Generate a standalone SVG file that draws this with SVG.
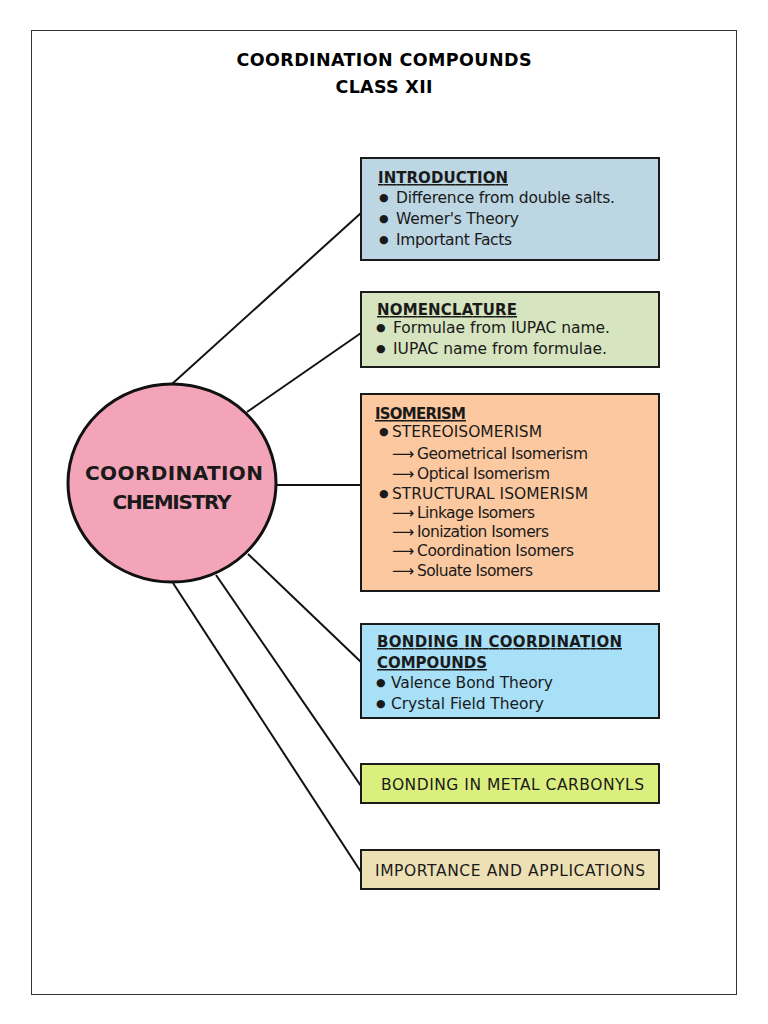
<svg xmlns="http://www.w3.org/2000/svg" width="768" height="1024" viewBox="0 0 768 1024">
<style>
.box{stroke:#1a1a1a;stroke-width:2}
.t{font-family:"DejaVu Sans",sans-serif;font-size:15.5px;fill:#1a1a1a}
.h{font-family:"DejaVu Sans",sans-serif;font-size:15px;font-weight:bold;fill:#1a1a1a;text-decoration:underline}
.b{font-size:11px}
.title{font-family:"DejaVu Sans",sans-serif;font-size:17.5px;font-weight:bold;fill:#000;text-anchor:middle}
.conn line{stroke:#111;stroke-width:2}
</style>
<rect x="0" y="0" width="768" height="1024" fill="#fff"/>
<rect x="31.5" y="30.5" width="705" height="964" fill="none" stroke="#333" stroke-width="1"/>
<g id="title">
<text class="title" x="384" y="66" textLength="295">COORDINATION COMPOUNDS</text>
<text class="title" x="384" y="93" textLength="97">CLASS XII</text>
</g>
<g id="connectors" class="conn">
<line x1="172" y1="384" x2="361" y2="213"/>
<line x1="247" y1="412" x2="361" y2="333"/>
<line x1="276" y1="485" x2="361" y2="485"/>
<line x1="248" y1="554" x2="361" y2="662"/>
<line x1="216" y1="575" x2="361" y2="786"/>
<line x1="173" y1="583" x2="361" y2="872"/>
</g>
<g id="center">
<ellipse cx="172" cy="483" rx="104" ry="99" fill="#f4a4b8" stroke="#111" stroke-width="3"/>
<text x="174" y="480" text-anchor="middle" font-family="DejaVu Sans,sans-serif" font-weight="bold" font-size="20" fill="#1a1a1a" textLength="178">COORDINATION</text>
<text x="172" y="509" text-anchor="middle" font-family="DejaVu Sans,sans-serif" font-weight="bold" font-size="20" fill="#1a1a1a" textLength="119">CHEMISTRY</text>
</g>
<g id="introduction">
<rect class="box" x="361" y="158" width="298" height="102" fill="#bcd6e3"/>
<text class="h" x="378" y="183" textLength="130">INTRODUCTION</text>
<text class="t" y="203"><tspan class="b" x="379" dy="-2">●</tspan><tspan x="396" dy="2" textLength="219">Difference from double salts.</tspan></text>
<text class="t" y="224"><tspan class="b" x="379" dy="-2">●</tspan><tspan x="396" dy="2" textLength="123">Wemer's Theory</tspan></text>
<text class="t" y="245"><tspan class="b" x="379" dy="-2">●</tspan><tspan x="396" dy="2" textLength="116">Important Facts</tspan></text>
</g>
<g id="nomenclature">
<rect class="box" x="361" y="292" width="298" height="75" fill="#d6e4bf"/>
<text class="h" x="377" y="315" textLength="140">NOMENCLATURE</text>
<text class="t" y="333"><tspan class="b" x="376" dy="-2">●</tspan><tspan x="393" dy="2" textLength="217">Formulae from IUPAC name.</tspan></text>
<text class="t" y="354"><tspan class="b" x="376" dy="-2">●</tspan><tspan x="393" dy="2" textLength="214">IUPAC name from formulae.</tspan></text>
</g>
<g id="isomerism">
<rect class="box" x="361" y="394" width="298" height="197" fill="#fcc8a0"/>
<text class="h" x="375" y="419" textLength="91">ISOMERISM</text>
<text class="t" y="437"><tspan class="b" x="379" dy="-2">●</tspan><tspan x="392" dy="2" textLength="150">STEREOISOMERISM</tspan></text>
<text class="t" y="459"><tspan x="392">⟶</tspan><tspan x="417" textLength="171">Geometrical Isomerism</tspan></text>
<text class="t" y="479"><tspan x="392">⟶</tspan><tspan x="417" textLength="133">Optical Isomerism</tspan></text>
<text class="t" y="499"><tspan class="b" x="379" dy="-2">●</tspan><tspan x="392" dy="2" textLength="196">STRUCTURAL ISOMERISM</tspan></text>
<text class="t" y="518"><tspan x="392">⟶</tspan><tspan x="417" textLength="118">Linkage Isomers</tspan></text>
<text class="t" y="537"><tspan x="392">⟶</tspan><tspan x="417" textLength="132">Ionization Isomers</tspan></text>
<text class="t" y="556"><tspan x="392">⟶</tspan><tspan x="417" textLength="157">Coordination Isomers</tspan></text>
<text class="t" y="576"><tspan x="392">⟶</tspan><tspan x="417" textLength="116">Soluate Isomers</tspan></text>
</g>
<g id="bonding">
<rect class="box" x="361" y="624" width="298" height="94" fill="#a8e0f8"/>
<text class="h" x="377" y="647" textLength="245">BONDING IN COORDINATION</text>
<text class="h" x="377" y="668" textLength="110">COMPOUNDS</text>
<text class="t" y="688"><tspan class="b" x="376" dy="-2">●</tspan><tspan x="391" dy="2" textLength="162">Valence Bond Theory</tspan></text>
<text class="t" y="709"><tspan class="b" x="376" dy="-2">●</tspan><tspan x="391" dy="2" textLength="153">Crystal Field Theory</tspan></text>
</g>
<g id="carbonyls">
<rect class="box" x="361" y="764" width="298" height="39" fill="#dbef7e"/>
<text class="t" x="381" y="790" textLength="263">BONDING IN METAL CARBONYLS</text>
</g>
<g id="importance">
<rect class="box" x="361" y="850" width="298" height="39" fill="#ede0b5"/>
<text class="t" x="375" y="876" textLength="270">IMPORTANCE AND APPLICATIONS</text>
</g>
</svg>
